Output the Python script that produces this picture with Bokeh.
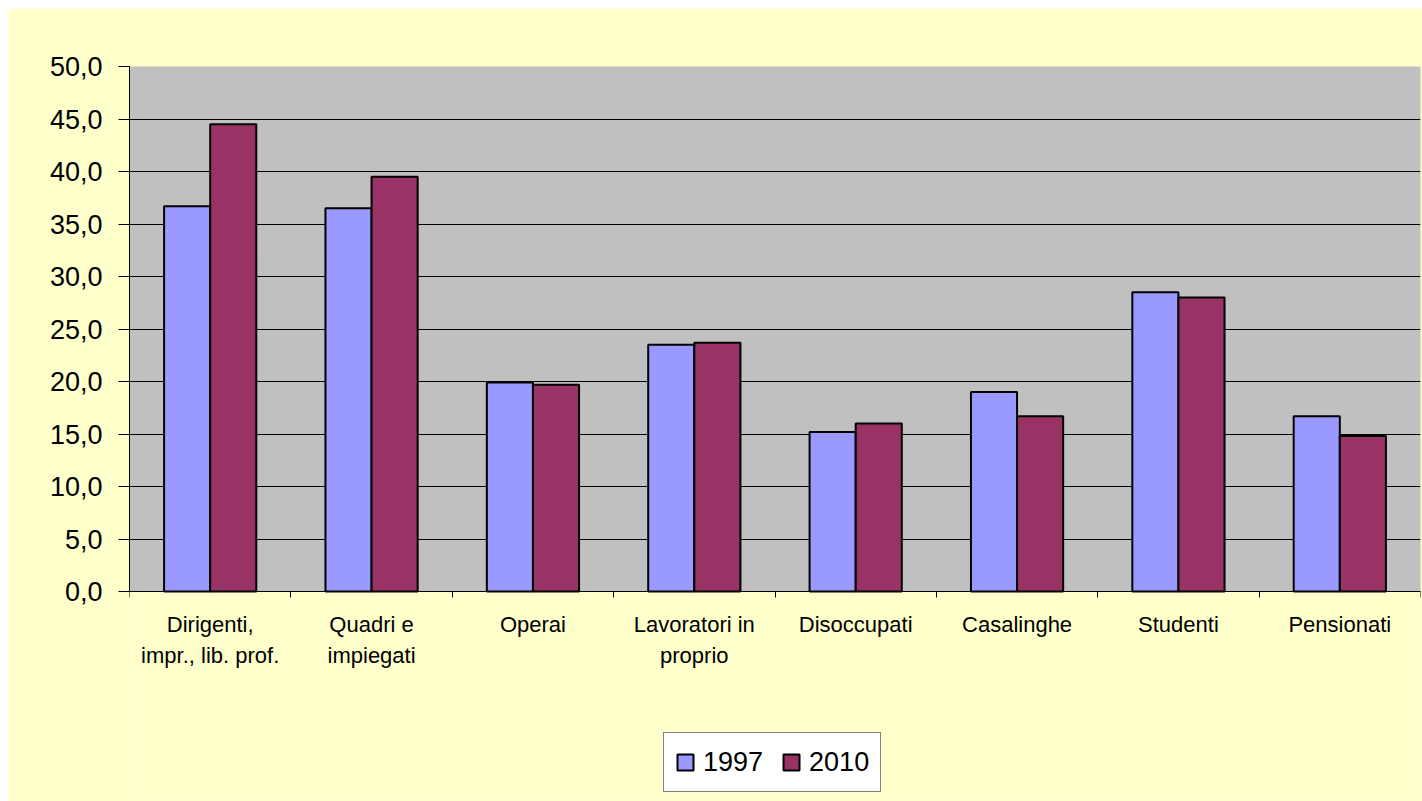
from bokeh.plotting import figure
from bokeh.models import (ColumnDataSource, Range1d, FixedTicker, Legend, LegendItem,
                          BoxAnnotation)
from bokeh.core.properties import value
from bokeh.embed import file_html
from bokeh.resources import INLINE

categories = ["Dirigenti,\nimpr., lib. prof.", "Quadri e\nimpiegati", "Operai",
              "Lavoratori in\nproprio", "Disoccupati", "Casalinghe", "Studenti", "Pensionati"]
values_1997 = [36.7, 36.5, 19.9, 23.5, 15.2, 19.0, 28.5, 16.7]
values_2010 = [44.5, 39.5, 19.7, 23.7, 16.0, 16.7, 28.0, 14.8]
series = ["1997", "2010"]
colors = ["#9999FF", "#993366"]
y_ticks = [0, 5, 10, 15, 20, 25, 30, 35, 40, 45, 50]

FONT = "Liberation Sans"
n = len(categories)
bw = 1 / 3.5
YMAX = 50

# layout (pixels inside the figure)
W, H = 1414, 793
BORDER_L, BORDER_R, BORDER_T, BORDER_B = 121, 2, 58, 8
PLOT_H = 525                      # height of the grey plot area (0..50)
frame_h = H - BORDER_T - BORDER_B
ymin = -(frame_h - PLOT_H) * YMAX / PLOT_H   # frame extends below 0 to hold labels + legend

p = figure(width=W, height=H, output_backend="svg", toolbar_location=None,
           x_range=Range1d(0, n), y_range=Range1d(ymin, YMAX),
           min_border_left=BORDER_L, min_border_right=BORDER_R,
           min_border_top=BORDER_T, min_border_bottom=BORDER_B)
p.margin = (8, 0, 0, 8)
p.background_fill_color = "#FFFFCC"
p.border_fill_color = "#FFFFCC"
p.outline_line_color = None

# grey plot area
plot_area = BoxAnnotation(left=0, right=n, bottom=0, top=YMAX, fill_color="#C0C0C0", fill_alpha=1,
                          line_color="#808080", line_width=1, level="underlay")
p.center = [plot_area] + list(p.center)

centers = [i + 0.5 for i in range(n)]
src1 = ColumnDataSource(dict(x=[c - bw / 2 for c in centers], top=values_1997))
src2 = ColumnDataSource(dict(x=[c + bw / 2 for c in centers], top=values_2010))
r1 = p.vbar(x="x", top="top", width=bw, source=src1, fill_color=colors[0], line_color="black", line_width=2)
r2 = p.vbar(x="x", top="top", width=bw, source=src2, fill_color=colors[1], line_color="black", line_width=2)

# y axis
p.yaxis.ticker = FixedTicker(ticks=y_ticks, minor_ticks=[])
p.yaxis.bounds = (0, YMAX)
p.yaxis.major_label_overrides = {t: f"{t:.1f}".replace(".", ",") for t in y_ticks}
p.yaxis.major_label_text_font = FONT
p.yaxis.major_label_text_font_size = "27px"
p.yaxis.major_label_text_color = "black"
p.yaxis.axis_line_color = "black"
p.yaxis.major_tick_line_color = "black"
p.yaxis.major_tick_in = 0
p.yaxis.major_tick_out = 11
p.yaxis.major_label_standoff = 16

# x axis at y = 0, ticks at the category boundaries
bounds_ticks = list(range(n + 1))
p.xaxis.fixed_location = 0
p.xaxis.ticker = FixedTicker(ticks=bounds_ticks, minor_ticks=[])
p.xaxis.major_label_overrides = {t: "" for t in bounds_ticks}
p.xaxis.major_label_standoff = 0
p.xaxis.axis_line_color = "black"
p.xaxis.major_tick_line_color = "black"
p.xaxis.major_tick_in = 0
p.xaxis.major_tick_out = 6

# category labels
p.text(x=centers, y=[0] * n, text=categories, y_offset=20,
       text_font=value(FONT), text_font_size="22px", text_color="black",
       text_align="center", text_baseline="top", text_line_height=1.25)

p.xgrid.grid_line_color = None
p.ygrid.grid_line_color = "black"
p.ygrid.grid_line_width = 1

legend = Legend(items=[LegendItem(label=series[0], renderers=[r1]),
                       LegendItem(label=series[1], renderers=[r2])],
                orientation="horizontal", location=(534, 1))
legend.label_text_font = FONT
legend.label_text_font_size = "27px"
legend.label_text_color = "black"
legend.glyph_width = 20
legend.glyph_height = 20
legend.label_standoff = 8
legend.spacing = 18
legend.padding = 11
legend.margin = 0
legend.label_height = 36
legend.border_line_color = "black"
legend.border_line_width = 1
legend.background_fill_color = "white"
legend.background_fill_alpha = 1
p.add_layout(legend, "center")

open("out.html", "w").write(file_html(p, INLINE))
